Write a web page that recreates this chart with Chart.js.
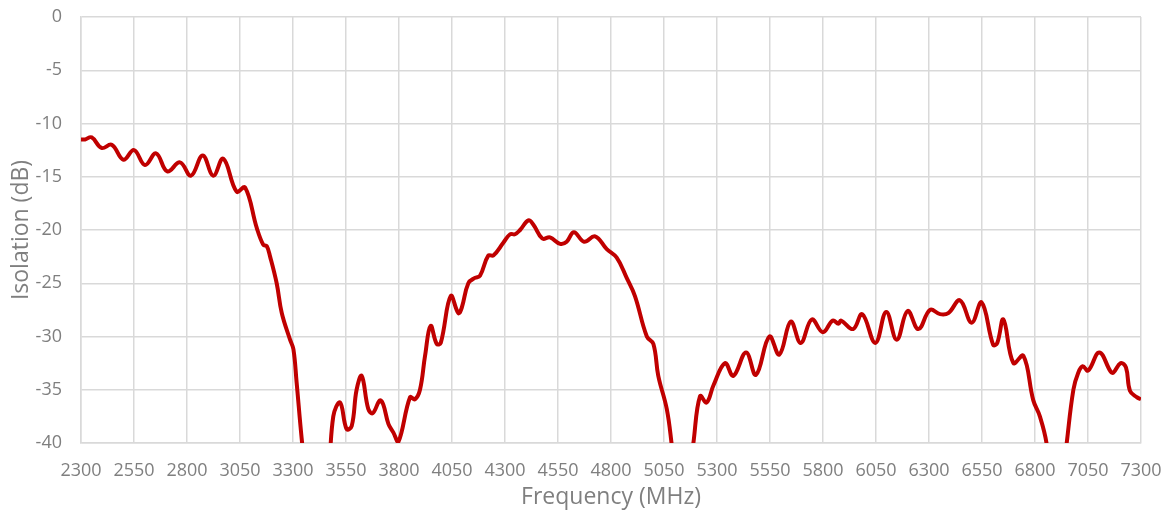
<!DOCTYPE html>
<html>
<head>
<meta charset="utf-8">
<script src="https://cdn.jsdelivr.net/npm/chart.js@4/dist/chart.umd.min.js"></script>
<style>
  body { margin: 0; background: #fff; }
  #wrap { width: 1170px; height: 513px; }
</style>
</head>
<body>
<div id="wrap"><canvas id="grafico"></canvas></div>
<script>
// frequência (MHz) e isolamento (dB)
const frequencias = [2300, 2319, 2350, 2397, 2445, 2500, 2550, 2602, 2654, 2707, 2767, 2819, 2874, 2924, 2971, 3034, 3074, 3129, 3160, 3176, 3192, 3223, 3247, 3286, 3302, 3317, 3341,
  3370, 3420, 3465,
  3490, 3522, 3553, 3577, 3600, 3624, 3655, 3676, 3710, 3726, 3750, 3773, 3797, 3852, 3875, 3899, 3923, 3949, 3978, 3997, 4044, 4080, 4096, 4127, 4158, 4182, 4221, 4245, 4292, 4324, 4347, 4371, 4410, 4434, 4476, 4512, 4560, 4591, 4625, 4673, 4725, 4780, 4827, 4874, 4913, 4969, 5000, 5023, 5063, 5086,
  5120, 5155,
  5188, 5220, 5251, 5283, 5338, 5377, 5437, 5484, 5547, 5594, 5648, 5695, 5747, 5799, 5846, 5873, 5885, 5942, 5985, 6047, 6098, 6148, 6199, 6250, 6305, 6352, 6391, 6446, 6501, 6548, 6603, 6622, 6651, 6698, 6745, 6792, 6823, 6855,
  6885, 6920,
  6949, 6981, 7004, 7025, 7051, 7103, 7157, 7169, 7204, 7229, 7248, 7280, 7300];

const isolamento = [-11.5, -11.5, -11.3, -12.3, -12.0, -13.4, -12.5, -13.9, -12.8, -14.5, -13.65, -14.9, -13.0, -14.9, -13.3, -16.4, -16.0, -19.8, -21.4, -21.5, -22.5, -25.0, -27.8, -30.3, -31.2, -34.3, -39.6,
  -45, -50, -44,
  -37.5, -36.2, -38.7, -38.4, -35.0, -33.7, -36.8, -37.2, -36.0, -36.4, -38.2, -39.0, -39.9, -35.7, -35.9, -35.0, -31.8, -29.0, -30.7, -30.6, -26.2, -27.8, -27.3, -25.0, -24.5, -24.3, -22.4, -22.4, -21.2, -20.4, -20.4, -20.0, -19.1, -19.5, -20.8, -20.7, -21.3, -21.1, -20.2, -21.1, -20.6, -21.8, -22.6, -24.5, -26.2, -30.0, -30.7, -33.7, -36.8, -40.1,
  -46, -45,
  -40.1, -35.6, -36.2, -34.6, -32.5, -33.7, -31.5, -33.6, -30.0, -31.7, -28.6, -30.6, -28.4, -29.6, -28.5, -28.8, -28.5, -29.3, -27.9, -30.6, -27.7, -30.3, -27.6, -29.3, -27.5, -27.9, -27.8, -26.6, -28.7, -26.8, -30.8, -30.6, -28.4, -32.5, -31.8, -36.0, -37.5, -40.1,
  -46, -45,
  -40.1, -35.0, -33.4, -32.8, -33.2, -31.5, -33.3, -33.4, -32.5, -32.9, -35.1, -35.7, -35.9];

const pontos = frequencias.map((f, i) => ({ x: f, y: isolamento[i] }));

const corTexto = '#7f7f7f';
const corGrade = '#d9d9d9';
const fonte = '"Open Sans", Lato, sans-serif';

const ctx = document.getElementById('grafico').getContext('2d');
const grafico = new Chart(ctx, {
  type: 'line',
  data: {
    datasets: [{
      label: 'Isolation',
      data: pontos,
      borderColor: '#c00000',
      borderWidth: 4,
      pointRadius: 0,
      tension: 0.4,
      fill: false
    }]
  },
  options: {
    responsive: true,
    maintainAspectRatio: false,
    animation: false,
    layout: { padding: { top: 17, right: 29, bottom: 0, left: 0 } },
    plugins: {
      legend: { display: false },
      tooltip: { enabled: false }
    },
    scales: {
      x: {
        type: 'linear',
        min: 2300,
        max: 7300,
        afterFit: function (s) { s.height = 70; s.paddingLeft = 0; s.paddingRight = 0; },
        ticks: {
          stepSize: 250,
          color: corTexto,
          font: { family: fonte, size: 18 },
          padding: 17,
          maxRotation: 0,
          callback: function (v) { return v; }
        },
        grid: { color: corGrade, lineWidth: 1.5, drawTicks: false },
        border: { color: corGrade, width: 1.5 },
        title: {
          display: true,
          text: 'Frequency (MHz)',
          color: corTexto,
          font: { family: fonte, size: 23 },
          padding: { top: 0, bottom: 2 }
        }
      },
      y: {
        min: -40,
        max: 0,
        afterFit: function (s) { s.width = 81; s.paddingTop = 0; s.paddingBottom = 0; },
        ticks: {
          stepSize: 5,
          color: corTexto,
          font: { family: fonte, size: 18 },
          padding: 19
        },
        grid: { color: corGrade, lineWidth: 1.5, drawTicks: false },
        border: { color: corGrade, width: 1.5 },
        title: {
          display: true,
          text: 'Isolation (dB)',
          color: corTexto,
          font: { family: fonte, size: 23 },
          padding: { top: 8, bottom: 0 }
        }
      }
    }
  }
});
</script>
</body>
</html>
